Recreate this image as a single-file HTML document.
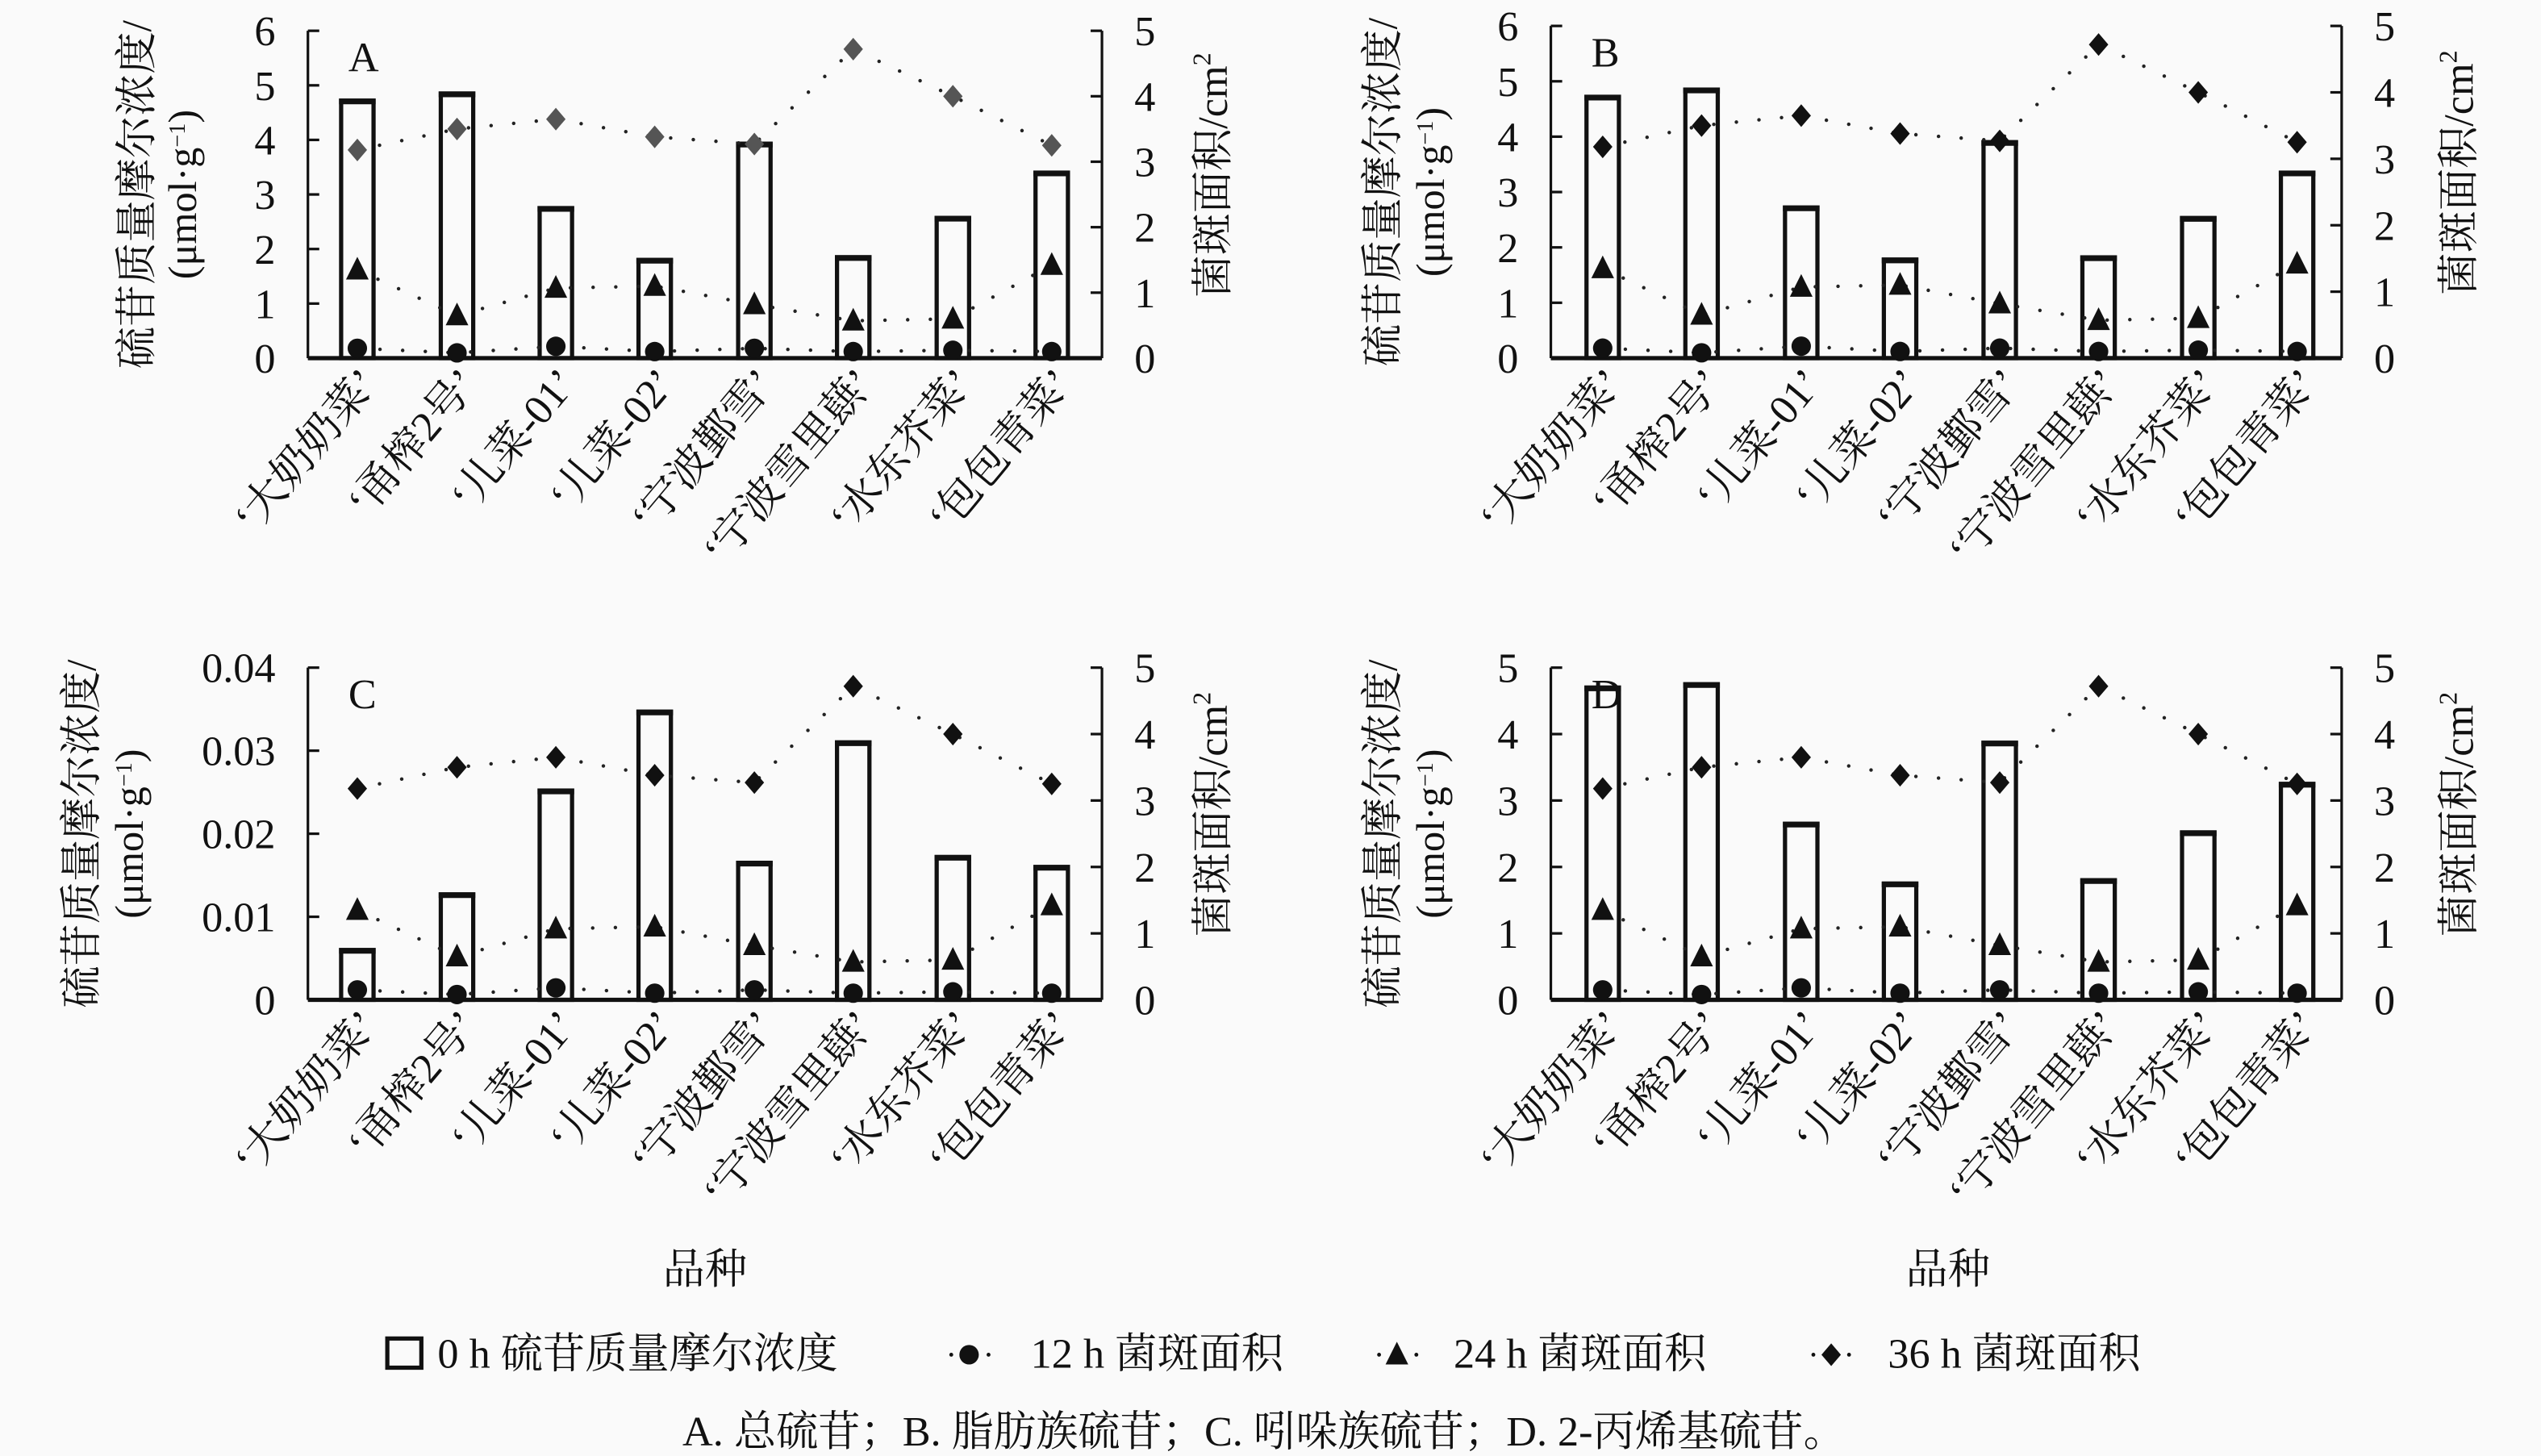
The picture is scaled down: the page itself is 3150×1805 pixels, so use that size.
<!DOCTYPE html>
<html><head><meta charset="utf-8">
<style>
html,body{margin:0;padding:0;background:#fafafa;}
svg{display:block;}
text{font-family:"Liberation Serif","Noto Serif CJK SC","Noto Sans CJK SC",serif;fill:#111;}
</style></head>
<body>
<svg id="s" xmlns="http://www.w3.org/2000/svg" width="3150" height="1805" viewBox="0 0 1568 898.5">
<rect width="1568" height="898.5" fill="#fafafa"/>
</svg>
<script>
const S=document.getElementById('s');
let h='';
const names=['‘大奶奶菜’','‘甬榨2号’','‘儿菜-01’','‘儿菜-02’','‘宁波鄞雪’','‘宁波雪里蕻’','‘水东芥菜’','‘包包青菜’'];
const dia=[3.18,3.5,3.65,3.38,3.27,4.72,4.0,3.25];
const tri=[1.35,0.65,1.07,1.1,0.82,0.57,0.6,1.42];
const cir=[0.15,0.08,0.18,0.1,0.15,0.1,0.12,0.1];
const panels=[
 {L:190,R:680,T:19,B:221,max:6,ticks:[0,1,2,3,4,5,6],lab:'A',bars:[4.72,4.85,2.75,1.8,3.93,1.85,2.57,3.4],cx:[220.5,282,343,404,465.5,526.5,588,649],l1:84,l2:112,rl:748,dc:'#555'},
 {L:957,R:1445,T:16,B:221,max:6,ticks:[0,1,2,3,4,5,6],lab:'B',bars:[4.72,4.85,2.72,1.78,3.9,1.82,2.53,3.35],cx:[989,1050,1111.5,1172.5,1234,1295,1356.5,1417.5],l1:853,l2:882,rl:1517,dc:'#111'},
 {L:190,R:680,T:412,B:617,max:0.04,ticks:[0,0.01,0.02,0.03,0.04],lab:'C',bars:[0.006,0.0127,0.0252,0.0347,0.0165,0.031,0.0172,0.016],cx:[220.5,282,343,404,465.5,526.5,588,649],l1:50,l2:79,rl:748,dc:'#111'},
 {L:957,R:1445,T:412,B:617,max:5,ticks:[0,1,2,3,4,5],lab:'D',bars:[4.7,4.75,2.65,1.75,3.87,1.8,2.52,3.25],cx:[989,1050,1111.5,1172.5,1234,1295,1356.5,1417.5],l1:853,l2:882,rl:1517,dc:'#111'}
];
function diamond(x,y,c){return `<polygon points="${x},${y-7} ${x+6},${y} ${x},${y+7} ${x-6},${y}" fill="${c}"/>`;}
function triangle(x,y){return `<polygon points="${x},${y-8} ${x+7},${y+6} ${x-7},${y+6}" fill="#111"/>`;}
function circle(x,y){return `<circle cx="${x}" cy="${y}" r="6" fill="#111"/>`;}
function dots(pts){return `<polyline points="${pts.map(p=>p.join(',')).join(' ')}" fill="none" stroke="#222" stroke-width="2.2" stroke-linecap="round" stroke-dasharray="0 14"/>`;}
panels.forEach(p=>{
 const H=p.B-p.T;
 const yl=v=>p.B-v/p.max*H, yr=v=>p.B-v/5*H;
 p.bars.forEach((v,i)=>{const x=p.cx[i]-10,y=yl(v);
  h+=`<rect x="${x}" y="${y}" width="20" height="${p.B-y}" fill="none" stroke="#111" stroke-width="2.6"/>`;
  h+=`<line x1="${x-1.3}" y1="${y+0.5}" x2="${x+21.3}" y2="${y+0.5}" stroke="#111" stroke-width="3.5"/>`;});
 h+=`<line x1="${p.L}" y1="${p.T}" x2="${p.L}" y2="${p.B}" stroke="#111" stroke-width="1.6"/>`;
 h+=`<line x1="${p.R}" y1="${p.T}" x2="${p.R}" y2="${p.B}" stroke="#111" stroke-width="1.6"/>`;
 h+=`<line x1="${p.L}" y1="${p.B}" x2="${p.R}" y2="${p.B}" stroke="#111" stroke-width="2.6"/>`;
 p.ticks.forEach(t=>{const y=yl(t);
  h+=`<line x1="${p.L}" y1="${y}" x2="${p.L+7}" y2="${y}" stroke="#111" stroke-width="1.6"/>`;
  h+=`<text x="${p.L-20}" y="${y+9}" font-size="26" text-anchor="end">${t}</text>`;});
 for(let t=0;t<=5;t++){const y=yr(t);
  h+=`<line x1="${p.R-7}" y1="${y}" x2="${p.R}" y2="${y}" stroke="#111" stroke-width="1.6"/>`;
  h+=`<text x="${p.R+20}" y="${y+9}" font-size="26">${t}</text>`;}
 h+=dots(p.cx.map((x,i)=>[x,yr(dia[i])]));
 h+=dots(p.cx.map((x,i)=>[x,yr(tri[i])]));
 h+=dots(p.cx.map((x,i)=>[x,yr(cir[i])]));
 p.cx.forEach((x,i)=>{h+=diamond(x,yr(dia[i]),p.dc)+triangle(x,yr(tri[i]))+circle(x,yr(cir[i]));});
 h+=`<text x="${p.L+25}" y="${p.T+25}" font-size="26">${p.lab}</text>`;
 p.cx.forEach((x,i)=>{h+=`<text transform="translate(${x+14},${p.B+16}) rotate(-50)" font-size="26" text-anchor="end">${names[i]}</text>`;});
 const cy=(p.T+p.B)/2;
 h+=`<text transform="translate(${p.l1+9},${cy}) rotate(-90)" font-size="26" text-anchor="middle">硫苷质量摩尔浓度/</text>`;
 h+=`<text transform="translate(${p.l2+9},${cy}) rotate(-90)" font-size="25" text-anchor="middle">(μmol·g<tspan dy="-7" font-size="14">−1</tspan><tspan dy="7">)</tspan></text>`;
 h+=`<text transform="translate(${p.rl+9},${cy-12}) rotate(-90)" font-size="26" text-anchor="middle">菌斑面积/cm<tspan dy="-10" font-size="16">2</tspan></text>`;
});
h+=`<text x="435" y="792" font-size="26" text-anchor="middle">品种</text>`;
h+=`<text x="1202" y="792" font-size="26" text-anchor="middle">品种</text>`;
h+=`<rect x="239" y="826" width="21" height="18" fill="none" stroke="#111" stroke-width="2.6"/>`;
h+=`<text x="270" y="844" font-size="26">0 h 硫苷质量摩尔浓度</text>`;
h+=`<circle cx="587" cy="836" r="1.2" fill="#111"/>`+circle(598,836)+`<circle cx="610" cy="836" r="1.2" fill="#111"/>`;
h+=`<text x="636" y="844" font-size="26">12 h 菌斑面积</text>`;
h+=`<circle cx="851" cy="836" r="1.2" fill="#111"/>`+triangle(862,836)+`<circle cx="874" cy="836" r="1.2" fill="#111"/>`;
h+=`<text x="897" y="844" font-size="26">24 h 菌斑面积</text>`;
h+=`<circle cx="1119" cy="836" r="1.2" fill="#111"/>`+diamond(1130,836,'#111')+`<circle cx="1141" cy="836" r="1.2" fill="#111"/>`;
h+=`<text x="1165" y="844" font-size="26">36 h 菌斑面积</text>`;
h+=`<text x="780" y="892" font-size="26" text-anchor="middle">A. 总硫苷；B. 脂肪族硫苷；C. 吲哚族硫苷；D. 2-丙烯基硫苷。</text>`;
S.insertAdjacentHTML('beforeend',h);
</script>
</body></html>
